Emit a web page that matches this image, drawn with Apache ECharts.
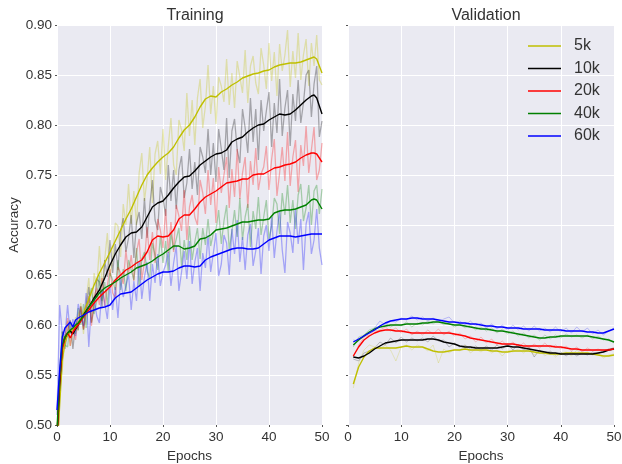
<!DOCTYPE html>
<html><head><meta charset="utf-8">
<script src="https://cdn.jsdelivr.net/npm/echarts@6/dist/echarts.min.js"></script>
<style>html,body{margin:0;padding:0;background:#fff}#c{width:622px;height:464px}</style>
</head><body><div id="c"></div>
<script>
const seriesNames = ['5k','10k','20k','40k','60k'];
const colors = ['#BFBF00','#000000','#FF0000','#008000','#0000FF'];
const xTicks = [0,10,20,30,40,50];
const yTicks = [0.50,0.55,0.60,0.65,0.70,0.75,0.80,0.85,0.90];

// Training, smoothed curves
const trainSmoothEpochs = [0,0.5,1,1.5,2,2.5,3,3.5,4,
  5,6,7,8,9,10,11,12,13,14,15,16,17,18,19,20,21,22,23,24,25,26,27,28,29,30,
  31,32,33,34,35,36,37,38,39,40,41,42,43,44,45,46,47,48,48.5,49,50];
const trainSmooth5k = [.47,.52,.565,.582,.59,.593,.596,.599,.602,
  .612,.626,.64,.652,.662,.673,.684,.695,.706,.716,
  .728,.74,.75,.757,.763,.768,.772,.778,.787,.795,
  .80,.808,.818,.826,.829,.828,.833,.836,.84,.843,
  .847,.849,.851,.852,.854,.855,.858,.86,.861,.862,
  .862,.863,.865,.867,.868,.866,.852];
const trainSmooth10k = [.485,.54,.578,.587,.592,.594,.591,.596,.60,
  .61,.618,.627,.635,.647,.66,.671,.68,.688,.692,
  .693,.698,.708,.718,.722,.724,.73,.737,.743,.748,
  .749,.754,.76,.764,.768,.771,.772,.775,.783,.786,
  .788,.793,.797,.80,.801,.805,.808,.811,.81,.811,
  .815,.82,.825,.829,.83,.827,.811];
const trainSmooth20k = [.49,.545,.575,.588,.592,.587,.593,.597,.60,
  .608,.615,.622,.628,.633,.638,.645,.65,.655,.658,
  .662,.665,.673,.685,.689,.688,.689,.695,.706,.71,
  .71,.716,.723,.728,.731,.734,.738,.742,.743,.744,
  .746,.746,.75,.751,.751,.754,.757,.758,.76,.761,
  .763,.767,.77,.772,.772,.771,.763];
const trainSmooth40k = [.495,.55,.58,.588,.592,.595,.597,.60,.602,
  .609,.618,.625,.632,.637,.64,.643,.647,.65,.653,
  .657,.659,.661,.664,.668,.671,.675,.679,.679,.676,
  .677,.679,.686,.687,.69,.695,.696,.697,.699,.701,
  .703,.703,.704,.705,.705,.706,.712,.714,.715,.715,
  .716,.718,.72,.725,.726,.725,.716];
const trainSmooth60k = [.515,.555,.588,.597,.60,.603,.598,.605,.607,
  .61,.613,.615,.617,.618,.62,.627,.631,.632,.633,
  .637,.641,.645,.648,.651,.653,.653,.654,.657,.659,
  .659,.658,.659,.665,.668,.67,.672,.674,.676,.677,
  .677,.676,.676,.677,.681,.685,.687,.689,.689,.689,
  .688,.689,.69,.691,.691,.691,.691];

// Training, raw (every half epoch, 0..50)
const trainRaw5k = [
  .47,.532,.556,.587,.604,.579,.593,.608,.594,.622,
  .591,.625,.647,.603,.652,.637,.679,.639,.665,.692,
  .649,.666,.702,.699,.668,.721,.70,.741,.701,.734,
  .70,.752,.772,.724,.746,.778,.722,.771,.784,.751,
  .796,.745,.779,.807,.76,.75,.805,.795,.774,.832,
  .789,.825,.78,.827,.846,.797,.819,.86,.811,.839,
  .801,.848,.839,.823,.866,.82,.852,.817,.864,.848,
  .832,.875,.822,.859,.869,.842,.831,.877,.86,.836,
  .882,.844,.873,.829,.881,.854,.87,.895,.838,.874,
  .847,.892,.845,.87,.886,.839,.882,.859,.89,.845,
  .84];
const trainRaw10k = [
  .494,.532,.593,.576,.595,.605,.576,.602,.595,.619,
  .595,.617,.638,.602,.617,.646,.643,.618,.665,.648,
  .685,.652,.681,.655,.693,.707,.673,.687,.71,.667,
  .702,.713,.686,.727,.687,.719,.745,.705,.695,.738,
  .727,.709,.76,.724,.755,.716,.755,.769,.727,.742,
  .776,.736,.763,.73,.778,.768,.752,.796,.75,.782,
  .743,.796,.776,.755,.807,.747,.794,.806,.775,.762,
  .816,.797,.772,.827,.783,.816,.765,.825,.794,.814,
  .833,.778,.822,.792,.846,.789,.817,.835,.779,.831,
  .804,.845,.802,.822,.85,.855,.808,.841,.859,.788,
  .804];
const trainRaw20k = [
  .495,.531,.586,.585,.607,.579,.599,.585,.608,.618,
  .596,.61,.629,.599,.628,.637,.62,.647,.619,.64,
  .656,.632,.627,.658,.652,.641,.675,.651,.67,.644,
  .673,.686,.645,.663,.698,.665,.693,.662,.706,.695,
  .677,.716,.672,.703,.673,.72,.709,.694,.735,.685,
  .718,.73,.708,.70,.745,.732,.711,.755,.72,.747,
  .702,.758,.732,.75,.768,.717,.756,.728,.776,.726,
  .752,.768,.717,.764,.74,.777,.735,.751,.758,.779,
  .735,.766,.786,.729,.752,.778,.744,.793,.739,.768,
  .785,.733,.78,.759,.799,.752,.775,.798,.745,.755,
  .782];
const trainRaw40k = [
  .484,.553,.594,.58,.578,.603,.599,.591,.617,.60,
  .621,.597,.626,.637,.611,.624,.65,.624,.643,.62,
  .652,.645,.635,.665,.635,.656,.634,.665,.655,.645,
  .677,.638,.666,.673,.654,.647,.682,.67,.655,.689,
  .662,.684,.653,.692,.675,.686,.697,.659,.685,.665,
  .699,.665,.683,.697,.666,.697,.68,.706,.679,.692,
  .695,.715,.681,.704,.72,.675,.694,.715,.688,.727,
  .685,.708,.721,.678,.714,.696,.728,.69,.708,.725,
  .686,.699,.727,.721,.691,.732,.71,.74,.702,.725,
  .696,.73,.741,.704,.717,.74,.70,.734,.74,.711,
  .736];
const trainRaw60k = [
  .51,.62,.592,.589,.62,.591,.606,.589,.621,.61,
  .599,.632,.578,.621,.628,.609,.602,.636,.622,.606,
  .64,.615,.638,.607,.646,.628,.639,.651,.615,.644,
  .624,.664,.626,.648,.663,.624,.661,.642,.671,.639,
  .653,.66,.673,.639,.662,.679,.634,.653,.674,.646,
  .684,.641,.663,.677,.634,.672,.657,.69,.653,.672,
  .692,.649,.661,.69,.682,.65,.696,.671,.705,.663,
  .688,.655,.69,.701,.659,.674,.697,.651,.689,.70,
  .674,.708,.667,.694,.714,.675,.652,.703,.692,.672,
  .716,.681,.706,.655,.701,.713,.671,.685,.716,.677,
  .66];

// Validation, smoothed (epochs 1..50)
const valSmooth5k = [
  .541,.558,.568,.574,.577,.577,.577,.577,.577,.578,
  .579,.578,.578,.578,.576,.574,.573,.573,.574,.575,
  .575,.576,.575,.575,.575,.575,.574,.574,.573,.573,
  .574,.574,.574,.574,.573,.572,.572,.571,.571,.571,
  .572,.572,.572,.572,.572,.571,.570,.569,.569,.570];
const valSmooth10k = [
  .568,.567,.569,.572,.576,.579,.582,.583,.584,.585,
  .585,.585,.585,.585,.586,.586,.585,.583,.582,.581,
  .579,.578,.578,.577,.577,.577,.577,.577,.578,.579,
  .578,.578,.577,.576,.575,.574,.573,.572,.572,.571,
  .571,.571,.571,.571,.571,.571,.572,.573,.575,.576];
const valSmooth20k = [
  .569,.578,.585,.589,.592,.594,.595,.595,.594,.594,
  .593,.592,.592,.592,.592,.592,.592,.592,.592,.591,
  .590,.589,.587,.586,.585,.584,.583,.582,.581,.581,
  .581,.580,.579,.579,.579,.579,.579,.579,.578,.578,
  .577,.576,.576,.575,.575,.575,.575,.575,.575,.576];
const valSmooth40k = [
  .580,.585,.589,.593,.596,.598,.599,.600,.600,.600,
  .601,.601,.601,.602,.602,.603,.603,.602,.601,.600,
  .600,.599,.598,.597,.596,.596,.595,.594,.594,.593,
  .592,.591,.590,.589,.588,.587,.587,.588,.588,.589,
  .589,.589,.589,.589,.589,.588,.587,.586,.585,.583];
const valSmooth60k = [
  .583,.586,.589,.592,.595,.599,.602,.604,.605,.606,
  .606,.607,.607,.606,.606,.606,.605,.604,.603,.603,
  .602,.602,.601,.601,.600,.599,.599,.598,.598,.597,
  .597,.597,.596,.596,.596,.596,.595,.595,.595,.595,
  .594,.594,.594,.594,.593,.593,.592,.592,.594,.596];

// Validation, raw (epochs 1..50)
const valRaw5k = [
  .537,.562,.575,.58,.578,.576,.58,.575,.564,.578,
  .58,.575,.58,.578,.574,.58,.562,.576,.572,.576,
  .574,.58,.572,.576,.573,.577,.572,.575,.569,.575,
  .573,.576,.572,.577,.57,.574,.569,.573,.568,.572,
  .573,.569,.575,.571,.573,.57,.572,.567,.57,.571];
const valRaw10k = [
  .566,.564,.572,.574,.577,.583,.58,.587,.582,.588,
  .583,.587,.584,.587,.583,.589,.584,.585,.578,.582,
  .578,.58,.576,.579,.575,.579,.575,.58,.576,.581,
  .575,.581,.575,.578,.568,.575,.571,.574,.57,.573,
  .569,.573,.569,.572,.57,.573,.571,.574,.576,.577];
const valRaw20k = [
  .568,.58,.588,.59,.594,.595,.598,.594,.597,.592,
  .596,.59,.594,.59,.595,.591,.596,.59,.594,.589,
  .592,.586,.589,.583,.588,.582,.586,.58,.584,.579,
  .583,.578,.582,.577,.581,.577,.582,.577,.58,.576,
  .579,.574,.578,.573,.577,.574,.576,.574,.576,.577];
const valRaw40k = [
  .578,.588,.59,.595,.597,.599,.602,.598,.601,.599,
  .603,.598,.602,.60,.604,.601,.605,.60,.602,.598,
  .601,.597,.60,.595,.598,.594,.597,.592,.596,.591,
  .594,.589,.592,.587,.59,.585,.59,.586,.59,.587,
  .591,.588,.59,.587,.59,.586,.589,.585,.586,.582];
const valRaw60k = [
  .585,.584,.59,.593,.597,.604,.60,.604,.603,.607,
  .605,.609,.605,.608,.604,.607,.603,.606,.608,.602,
  .604,.60,.604,.599,.602,.597,.601,.596,.60,.595,
  .60,.595,.599,.594,.599,.594,.597,.593,.598,.593,
  .597,.592,.598,.593,.597,.591,.595,.59,.594,.597];

const trainSmooth = [trainSmooth5k,trainSmooth10k,trainSmooth20k,trainSmooth40k,trainSmooth60k];
const trainRaw = [trainRaw5k,trainRaw10k,trainRaw20k,trainRaw40k,trainRaw60k];
const valSmooth = [valSmooth5k,valSmooth10k,valSmooth20k,valSmooth40k,valSmooth60k];
const valRaw = [valRaw5k,valRaw10k,valRaw20k,valRaw40k,valRaw60k];

const FONT = 'Liberation Sans, Arial, sans-serif';
const TXT = '#333333';

function pairs(xs, ys){ return ys.map((v,i)=>[xs[i], v]); }
const rawEpochs = trainRaw5k.map((_,i)=>i*0.5);
const valEpochs = valSmooth5k.map((_,i)=>i+1);

const series = [];
for (let k=0;k<5;k++){
  series.push({name: seriesNames[k]+' raw', type:'line', xAxisIndex:0, yAxisIndex:0,
    data: pairs(rawEpochs, trainRaw[k]), symbol:'none', silent:true,
    lineStyle:{color:colors[k], width:1.3, opacity:0.3}, itemStyle:{color:colors[k]}});
}
for (let k=0;k<5;k++){
  series.push({name: seriesNames[k]+' vraw', type:'line', xAxisIndex:1, yAxisIndex:1,
    data: pairs(valEpochs, valRaw[k]), symbol:'none', silent:true,
    lineStyle:{color:colors[k], width:1, opacity:0.22}, itemStyle:{color:colors[k]}});
}
for (let k=0;k<5;k++){
  series.push({name: seriesNames[k], type:'line', xAxisIndex:0, yAxisIndex:0,
    data: pairs(trainSmoothEpochs, trainSmooth[k]), symbol:'none',
    lineStyle:{color:colors[k], width:1.4}, itemStyle:{color:colors[k]}});
}
for (let k=0;k<5;k++){
  series.push({name: seriesNames[k], type:'line', xAxisIndex:1, yAxisIndex:1,
    data: pairs(valEpochs, valSmooth[k]), symbol:'none',
    lineStyle:{color:colors[k], width:1.4}, itemStyle:{color:colors[k]}});
}

function xAxisDef(gi){
  return {type:'value', gridIndex:gi, min:xTicks[0], max:xTicks[xTicks.length-1], interval:10,
    axisLine:{show:false}, axisTick:{show:true, length:2, lineStyle:{color:'#555'}},
    axisLabel:{color:TXT, fontSize:13.5, fontFamily:FONT, margin:5},
    splitLine:{show:true, lineStyle:{color:'#ffffff', width:1}},
    name:'Epochs', nameLocation:'middle', nameGap:21,
    nameTextStyle:{color:TXT, fontSize:13.5, fontFamily:FONT}};
}
function yAxisDef(gi, showLabels){
  return {type:'value', gridIndex:gi, min:yTicks[0], max:yTicks[yTicks.length-1], interval:0.05,
    axisLine:{show:false}, axisTick:{show:true, length:2, lineStyle:{color:'#555'}},
    axisLabel:{show:showLabels, color:TXT, fontSize:13.5, fontFamily:FONT, margin:5,
      formatter:v=>v.toFixed(2)},
    splitLine:{show:true, lineStyle:{color:'#ffffff', width:1}},
    name: showLabels ? 'Accuracy' : '', nameLocation:'middle', nameGap:36,
    nameTextStyle:{color:TXT, fontSize:13.5, fontFamily:FONT}};
}

const chart = echarts.init(document.getElementById('c'), null, {renderer:'canvas'});
chart.setOption({
  animation:false,
  backgroundColor:'#ffffff',
  title:[
    {text:'Training', left:190, top:3, textAlign:'center',
     textStyle:{color:TXT, fontSize:16, fontWeight:'normal', fontFamily:FONT}},
    {text:'Validation', left:481, top:3, textAlign:'center',
     textStyle:{color:TXT, fontSize:16, fontWeight:'normal', fontFamily:FONT}}
  ],
  legend:{data:seriesNames, orient:'vertical', left:528, top:38, padding:0,
    itemWidth:33, itemHeight:14, itemGap:6.5, icon:'path://M0,7L33,7L33,8.5L0,8.5Z',
    textStyle:{color:TXT, fontSize:16, fontFamily:FONT, padding:[0,0,0,8]}},
  grid:[
    {left:57, top:25, width:265, height:400, show:true, backgroundColor:'#EAEAF2', borderWidth:0, outerBoundsMode:'none', containLabel:false},
    {left:348, top:25, width:266, height:400, show:true, backgroundColor:'#EAEAF2', borderWidth:0, outerBoundsMode:'none', containLabel:false}
  ],
  xAxis:[xAxisDef(0), xAxisDef(1)],
  yAxis:[yAxisDef(0,true), yAxisDef(1,false)],
  series: series
});
</script></body></html>
